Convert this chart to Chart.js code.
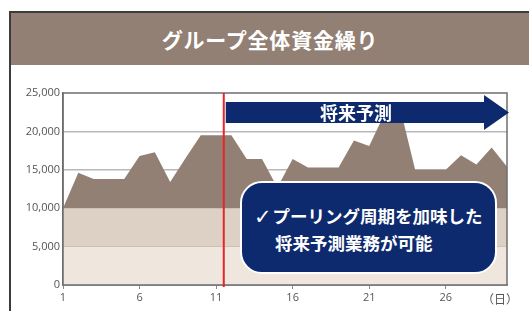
<!DOCTYPE html>
<html>
<head>
<meta charset="utf-8">
<script src="https://cdn.jsdelivr.net/npm/chart.js@4"></script>
<style>
  html, body { margin: 0; padding: 0; background: #fff; }
  body { width: 529px; height: 311px; position: relative; overflow: hidden; font-family: "Noto Sans CJK JP", sans-serif; }
  #frame { position: absolute; left: 9px; top: 11px; width: 520px; height: 300px; border-top: 2px solid #3c3c3c; border-left: 2px solid #3c3c3c; box-sizing: border-box; }
  #title { position: absolute; left: 11px; top: 13px; width: 518px; height: 52px; background: #938075; color: #fff; font-weight: bold; font-size: 21px; line-height: 52px; text-align: center; letter-spacing: 0.8px; }
  #c { position: absolute; left: 0; top: 0; }
  .ov { position: absolute; color: #fff; font-weight: bold; white-space: nowrap; }
  #arrowText { left: 320px; top: 100px; font-size: 18px; line-height: 24px; }
  #box { position: absolute; left: 240px; top: 181px; width: 257px; height: 93px; background: #0e2a6e; border: 2.5px solid #fff; border-radius: 22px; box-sizing: border-box; }
  #l1 { left: 254px; top: 204px; font-size: 17.5px; line-height: 24px; }
  #l1 .ck { font-weight: normal; font-family: "DejaVu Sans", sans-serif; font-size: 21px; line-height: 20px; margin-right: 1px; vertical-align: -1px; }
  #l2 { left: 275px; top: 231px; font-size: 17.5px; line-height: 24px; }
  #unit { position: absolute; left: 482px; top: 290px; font-size: 12px; color: #555; font-family: "Noto Sans CJK JP", sans-serif; }
</style>
</head>
<body>
<div id="frame"></div>
<div id="title">グループ全体資金繰り</div>
<canvas id="c" width="529" height="311"></canvas>
<div class="ov" id="arrowText">将来予測</div>
<div id="box"></div>
<div class="ov" id="l1"><span class="ck">✓</span>プーリング周期を加味した</div>
<div class="ov" id="l2">将来予測業務が可能</div>
<div id="unit">（日）</div>
<script>
// ---- data ----
const days = [1,2,3,4,5,6,7,8,9,10,11,12,13,14,15,16,17,18,19,20,21,22,23,24,25,26,27,28,29,30];
const balance = [10000,14600,13800,13800,13800,16800,17300,13400,16500,19500,19500,19500,16400,16400,12700,16400,15300,15300,15300,18800,18100,22300,23200,15000,15000,15000,16900,15700,17900,15400];
const yTicks = [0,5000,10000,15000,20000,25000];
const xTickDays = [1,6,11,16,21,26];
const bandLower = [0, 5000];
const bandUpper = [5000, 10000];
const bandColors = ['#efe6dd', '#ddd0c4'];
const forecastStartDay = 11.5;

const overlay = {
  id: 'overlay',
  afterDatasetsDraw(chart) {
    const {ctx, chartArea: a, scales: {x, y}} = chart;
    ctx.save();
    // bands
    for (let i = 0; i < bandLower.length; i++) {
      const y0 = y.getPixelForValue(bandLower[i]);
      const y1 = y.getPixelForValue(bandUpper[i]);
      ctx.fillStyle = bandColors[i];
      ctx.fillRect(a.left, y1, a.right - a.left, y0 - y1);
    }
    // frame
    ctx.strokeStyle = '#6e6e6e';
    ctx.lineWidth = 1.5;
    ctx.strokeRect(a.left, a.top, a.right - a.left, a.bottom - a.top);
    // red line (forecast start)
    const i0 = Math.floor(forecastStartDay) - 1;
    const xr = x.getPixelForValue(i0) + (x.getPixelForValue(i0 + 1) - x.getPixelForValue(i0)) * (forecastStartDay - Math.floor(forecastStartDay));
    ctx.strokeStyle = '#e8232a';
    ctx.lineWidth = 2;
    ctx.beginPath();
    ctx.moveTo(xr, a.top);
    ctx.lineTo(xr, a.bottom + 2);
    ctx.stroke();
    // arrow
    const bt = a.top + 9, bb = a.top + 30, ht = a.top + 2, hb = a.top + 37;
    const tip = a.right + 2, hx = a.right - 23;
    const cy = (bt + bb) / 2;
    ctx.fillStyle = '#0e2a6e';
    ctx.beginPath();
    ctx.moveTo(xr + 2, bt);
    ctx.lineTo(hx, bt);
    ctx.lineTo(hx, ht);
    ctx.lineTo(tip, cy);
    ctx.lineTo(hx, hb);
    ctx.lineTo(hx, bb);
    ctx.lineTo(xr + 2, bb);
    ctx.closePath();
    ctx.fill();
    ctx.restore();
  }
};

new Chart(document.getElementById('c'), {
  type: 'line',
  data: {
    labels: days,
    datasets: [{
      data: balance,
      fill: 'origin',
      backgroundColor: '#938075',
      borderColor: '#938075',
      borderWidth: 0,
      pointRadius: 0,
      tension: 0
    }]
  },
  options: {
    responsive: false,
    animation: false,
    devicePixelRatio: 1,
    layout: { padding: { top: 93, right: 22, left: 0, bottom: 0 } },
    plugins: { legend: { display: false }, tooltip: { enabled: false } },
    scales: {
      x: {
        type: 'category',
        offset: false,
        afterFit(s) { s.height = 26; },
        grid: {
          drawOnChartArea: false,
          tickLength: 4,
          color: (c) => xTickDays.includes(days[c.index]) ? '#8a8a8a' : 'rgba(0,0,0,0)'
        },
        border: { display: true, color: '#6e6e6e', width: 1.5 },
        ticks: {
          autoSkip: false,
          maxRotation: 0,
          padding: 2,
          color: '#555',
          font: { family: 'Open Sans', size: 11 },
          callback: (v, i) => xTickDays.includes(days[i]) ? String(days[i]) : ''
        }
      },
      y: {
        min: 0,
        max: 25000,
        afterFit(s) { s.width = 63; },
        afterBuildTicks(s) { s.ticks = yTicks.map(v => ({ value: v })); },
        grid: {
          drawTicks: false,
          lineWidth: 1.5,
          color: (c) => (c.tick && (c.tick.value === 15000 || c.tick.value === 20000)) ? '#b8b8b8' : 'rgba(0,0,0,0)'
        },
        border: { display: true, color: '#6e6e6e', width: 1.5 },
        ticks: {
          padding: 3,
          color: '#555',
          font: { family: 'Open Sans', size: 11 },
          callback: (v) => v.toLocaleString('en-US')
        }
      }
    }
  },
  plugins: [overlay]
});
</script>
</body>
</html>
